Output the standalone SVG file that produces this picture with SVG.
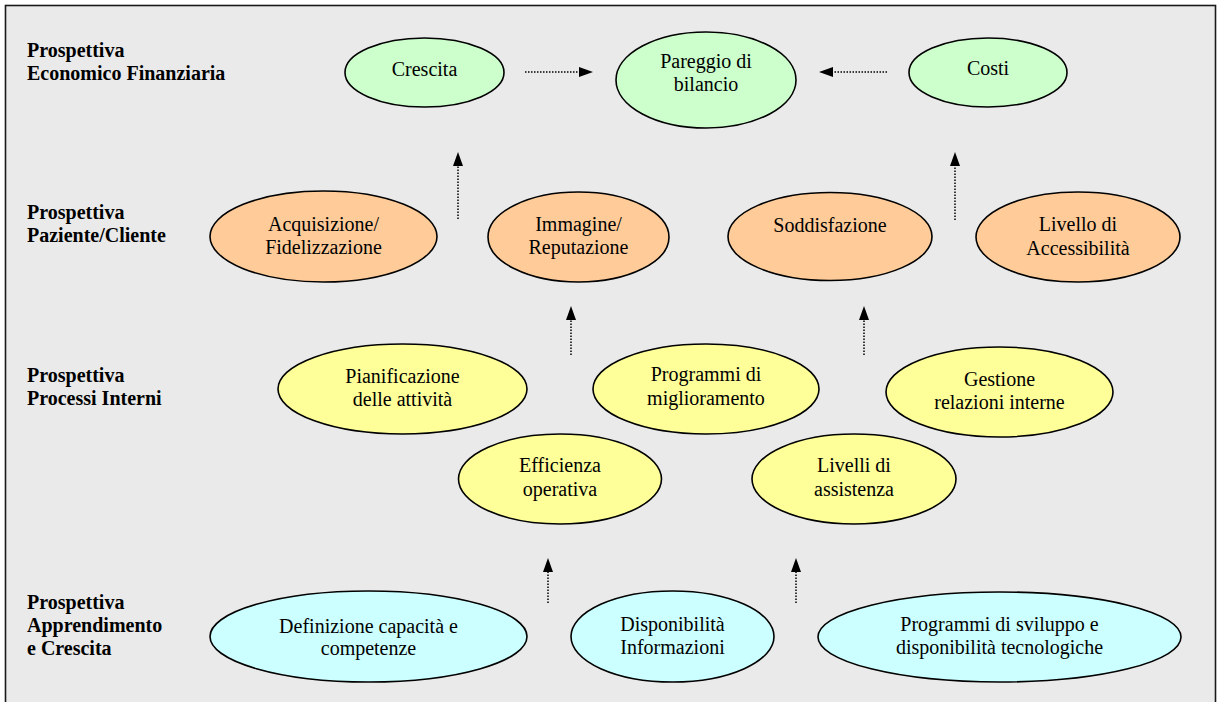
<svg xmlns="http://www.w3.org/2000/svg" width="1225" height="702" viewBox="0 0 1225 702">
<defs>
<style>
.bg{fill:#EAEAEA;stroke:#1a1a1a;stroke-width:1.6}
.n{stroke:#000;stroke-width:1.6}
.g{fill:#CCFFCC}.o{fill:#FFCC99}.y{fill:#FFFF99}.c{fill:#CCFFFF}
text{font-family:'Liberation Serif','Times New Roman','DejaVu Serif',serif;fill:#000}
.t{font-size:20px;text-anchor:middle}
.lb{font-size:20px;font-weight:bold}
.cn{stroke:#000;stroke-width:1.5;stroke-dasharray:1.5 1.5;fill:none}
.hd{fill:#000}
</style>
</defs>
<rect class="bg" x="5.5" y="5.5" width="1210" height="720"/>
<g id="labels">
<text class="lb" x="27" y="57">Prospettiva</text>
<text class="lb" x="27" y="80">Economico Finanziaria</text>
<text class="lb" x="27" y="219">Prospettiva</text>
<text class="lb" x="27" y="242">Paziente/Cliente</text>
<text class="lb" x="27" y="382">Prospettiva</text>
<text class="lb" x="27" y="405">Processi Interni</text>
<text class="lb" x="27" y="609">Prospettiva</text>
<text class="lb" x="27" y="632">Apprendimento</text>
<text class="lb" x="27" y="655">e Crescita</text>
</g>
<g id="connectors">
<path class="cn" d="M525,72 H580"/>
<path class="hd" d="M579,67 L593,72 L579,77 z"/>
<path class="cn" d="M887,72 H832"/>
<path class="hd" d="M833,67 L819,72 L833,77 z"/>
<path class="cn" d="M458,219 V165"/>
<path class="hd" d="M453,166 L458,152 L463,166 z"/>
<path class="cn" d="M955,220 V165"/>
<path class="hd" d="M950,166 L955,152 L960,166 z"/>
<path class="cn" d="M571,355 V319"/>
<path class="hd" d="M566,320 L571,306 L576,320 z"/>
<path class="cn" d="M864,355 V319"/>
<path class="hd" d="M859,320 L864,306 L869,320 z"/>
<path class="cn" d="M548,603 V571"/>
<path class="hd" d="M543,572 L548,558 L553,572 z"/>
<path class="cn" d="M796,603 V571"/>
<path class="hd" d="M791,572 L796,558 L801,572 z"/>
</g>
<g id="crescita"><ellipse class="n g" cx="424.5" cy="72.5" rx="79.5" ry="34.5"/><text class="t" x="424.5" y="76">Crescita</text></g>
<g id="pareggio"><ellipse class="n g" cx="706" cy="80" rx="90" ry="48"/><text class="t" x="706" y="68">Pareggio di</text><text class="t" x="706" y="91">bilancio</text></g>
<g id="costi"><ellipse class="n g" cx="988" cy="72.5" rx="79" ry="34.5"/><text class="t" x="988" y="75">Costi</text></g>
<g id="acquisizione"><ellipse class="n o" cx="323.5" cy="236.5" rx="113.5" ry="45.5"/><text class="t" x="323.5" y="231">Acquisizione/</text><text class="t" x="323.5" y="254">Fidelizzazione</text></g>
<g id="immagine"><ellipse class="n o" cx="578.5" cy="237" rx="90.5" ry="45"/><text class="t" x="578.5" y="231">Immagine/</text><text class="t" x="578.5" y="254">Reputazione</text></g>
<g id="soddisfazione"><ellipse class="n o" cx="830" cy="236.5" rx="102" ry="44"/><text class="t" x="830" y="232">Soddisfazione</text></g>
<g id="livello"><ellipse class="n o" cx="1078" cy="237" rx="102" ry="45"/><text class="t" x="1078" y="231">Livello di</text><text class="t" x="1078" y="255">Accessibilità</text></g>
<g id="pianificazione"><ellipse class="n y" cx="402.5" cy="389" rx="124.5" ry="45"/><text class="t" x="402.5" y="383">Pianificazione</text><text class="t" x="402.5" y="406">delle attività</text></g>
<g id="programmi-miglioramento"><ellipse class="n y" cx="706" cy="389" rx="113" ry="45"/><text class="t" x="706" y="381">Programmi di</text><text class="t" x="706" y="405">miglioramento</text></g>
<g id="gestione"><ellipse class="n y" cx="999.5" cy="392" rx="113.5" ry="45"/><text class="t" x="999.5" y="386">Gestione</text><text class="t" x="999.5" y="409">relazioni interne</text></g>
<g id="efficienza"><ellipse class="n y" cx="560" cy="479" rx="101.5" ry="45"/><text class="t" x="560" y="472">Efficienza</text><text class="t" x="560" y="496">operativa</text></g>
<g id="livelli"><ellipse class="n y" cx="854" cy="479" rx="102" ry="45"/><text class="t" x="854" y="472">Livelli di</text><text class="t" x="854" y="496">assistenza</text></g>
<g id="definizione"><ellipse class="n c" cx="368.5" cy="636.5" rx="158.5" ry="45.5"/><text class="t" x="368.5" y="633">Definizione capacità e</text><text class="t" x="368.5" y="655">competenze</text></g>
<g id="disponibilita"><ellipse class="n c" cx="672.5" cy="636.5" rx="101.5" ry="45.5"/><text class="t" x="672.5" y="631">Disponibilità</text><text class="t" x="672.5" y="654">Informazioni</text></g>
<g id="programmi-sviluppo"><ellipse class="n c" cx="999.5" cy="637" rx="181.5" ry="45"/><text class="t" x="999.5" y="631">Programmi di sviluppo e</text><text class="t" x="999.5" y="654">disponibilità tecnologiche</text></g>
</svg>
